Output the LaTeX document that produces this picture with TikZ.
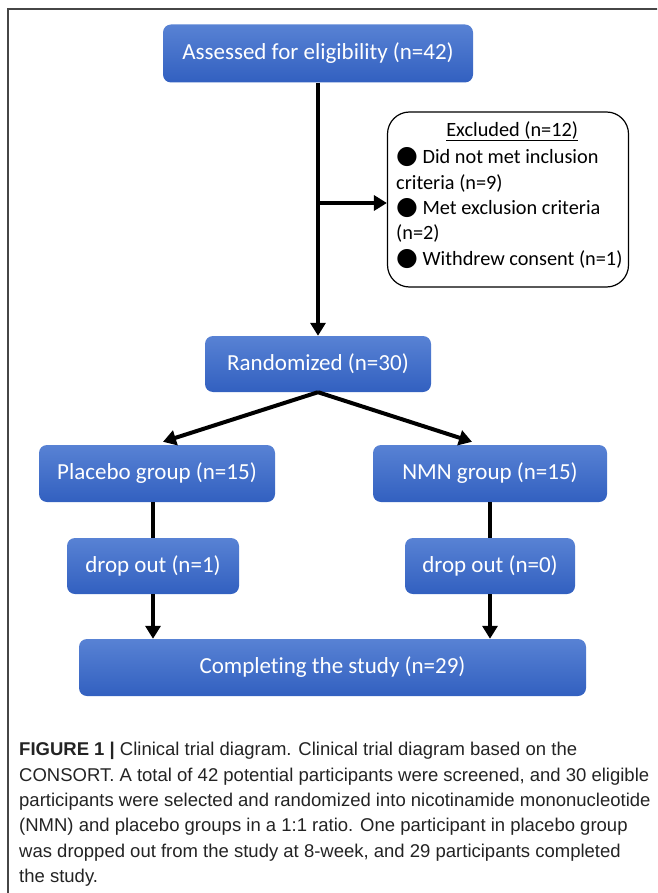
\documentclass[tikz,border=0pt]{standalone}
\usepackage{fontspec}
\setmainfont{Carlito}[Ligatures=NoCommon]
\newfontfamily\capfont{Liberation Sans}
\newfontfamily\symfont{DejaVu Sans}
\usetikzlibrary{arrows.meta,calc}
\definecolor{boxtop}{RGB}{88,130,212}
\definecolor{boxbot}{RGB}{50,96,192}
\definecolor{framecol}{RGB}{70,70,70}
\definecolor{captxt}{RGB}{35,35,35}
\newcommand{\blt}{{\symfont\fontsize{25}{25}\selectfont ●}}
\tikzset{
  bluebox/.style={rectangle, rounded corners=8pt, top color=boxtop, bottom color=boxbot,
    draw=none, text=white, font=\fontsize{23}{27}\selectfont, inner sep=0pt, anchor=center},
  exclbox/.style={rectangle, rounded corners=22pt, draw=black, line width=1.2pt, fill=white, inner sep=0pt},
  arr/.style={line width=4pt, -{Triangle[width=15pt,length=13pt]}},
  plain/.style={line width=4pt},
}
\begin{document}
\begin{tikzpicture}[x=1pt,y=-1pt]
\useasboundingbox (0,0) rectangle (657,893);
\clip (0,0) rectangle (657,893);
% frame
\draw[framecol, line width=2pt] (8,905) -- (8,9) -- (670,9);

% boxes
\node[bluebox, minimum width=310pt, minimum height=58pt] (assess) at (318,53.5) {Assessed for eligibility (n=42)};
\node[exclbox, minimum width=241pt, minimum height=175pt] (excl) at (508,199.5) {};
\node[anchor=north west, inner sep=0pt, align=left, font=\fontsize{20.3}{25.3}\selectfont] (excltxt) at (396,121)
  {\makebox[232pt][c]{\underline{Excluded (n=12)}}\\[2.5pt]
   \blt\ Did not met inclusion\\criteria (n=9)\\
   \blt\ Met exclusion criteria\\(n=2)\\
   \blt\ Withdrew consent (n=1)};
\node[bluebox, minimum width=226pt, minimum height=56pt] (rand) at (318,364) {Randomized (n=30)};
\node[bluebox, minimum width=236pt, minimum height=57pt] (plac) at (157,473.5) {Placebo group (n=15)};
\node[bluebox, minimum width=234pt, minimum height=57pt] (nmn) at (490,473.5) {NMN group (n=15)};
\node[bluebox, minimum width=172pt, minimum height=56pt] (drop1) at (153,566) {drop out (n=1)};
\node[bluebox, minimum width=170pt, minimum height=56pt] (drop0) at (490,566) {drop out (n=0)};
\node[bluebox, minimum width=507pt, minimum height=57pt] (comp) at (332.5,667.5) {Completing the study (n=29)};

% connectors
\coordinate (br) at (318,203);
\draw[arr] (assess.south) -- (rand.north);
\draw[arr] (br) -- (br -| excl.west);
\draw[arr] (rand.south) -- ($(plac.north)+(6,-3)$);
\draw[arr] (rand.south) -- ($(nmn.north)+(-18,-3)$);
\draw[plain] (plac.south -| drop1.north) -- (drop1.north);
\draw[plain] (nmn.south -| drop0.north) -- (drop0.north);
\draw[arr] (drop1.south) -- (comp.north -| drop1.south);
\draw[arr] (drop0.south) -- (comp.north -| drop0.south);

% caption
\node[anchor=north west, inner sep=0pt, align=left, text=captxt,
      font=\capfont\fontsize{18.5}{25.4}\selectfont] (cap) at (19,742)
  {\textbf{FIGURE 1 |} Clinical trial diagram. Clinical trial diagram based on the\\
   CONSORT. A total of 42 potential participants were screened, and 30 eligible\\
   participants were selected and randomized into nicotinamide mononucleotide\\
   (NMN) and placebo groups in a 1:1 ratio. One participant in placebo group\\
   was dropped out from the study at 8-week, and 29 participants completed\\
   the study.};
\end{tikzpicture}
\end{document}
